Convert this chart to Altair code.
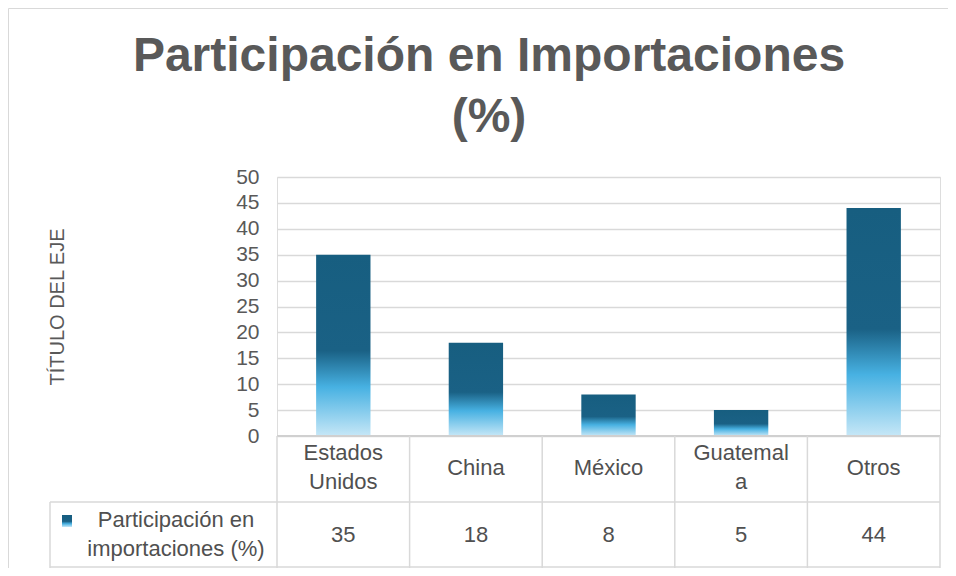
import altair as alt
import pandas as pd

# ---- data ----
categories = ["Estados Unidos", "China", "México", "Guatemala", "Otros"]
header_labels = ["Estados\nUnidos", "China", "México", "Guatemal\na", "Otros"]
values = [35, 18, 8, 5, 44]
series_name = "Participación en\nimportaciones (%)"
title_text = "Participación en Importaciones\n(%)"
axis_title = "TÍTULO DEL EJE"
y_ticks = [0, 5, 10, 15, 20, 25, 30, 35, 40, 45, 50]

df = pd.DataFrame({"cat": categories, "value": values, "label": header_labels})

W, H = 663, 259
FONT = "Liberation Sans"
GRID = "#d9d9d9"
TXT = "#505050"

grad = alt.LinearGradient(
    gradient="linear", x1=0, y1=1, x2=0, y2=0,
    stops=[
        alt.GradientStop(offset=0, color="#c6e7f7"),
        alt.GradientStop(offset=0.27, color="#47b1e2"),
        alt.GradientStop(offset=0.47, color="#1a6185"),
        alt.GradientStop(offset=1, color="#175e80"),
    ],
)

xscale = alt.Scale(paddingInner=0, paddingOuter=0)
xenc = alt.X("cat:N", sort=categories, scale=xscale, axis=None)

base = alt.Chart(df)

bars = base.mark_bar(color=grad, width=alt.RelativeBandSize(0.41)).encode(
    x=xenc,
    y=alt.Y("value:Q", scale=alt.Scale(domain=[0, 50], nice=False),
            axis=alt.Axis(values=y_ticks, title=axis_title, grid=True,
                          gridColor=GRID, gridWidth=1.5, domain=False, ticks=False,
                          labelFont=FONT, labelFontSize=21, labelColor="#595959",
                          labelPadding=18,
                          titleFont=FONT, titleFontSize=20, titleFontWeight="normal",
                          titleColor="#595959", titleX=-220, titleY=H / 2,
                          titleAngle=270, titleAlign="center", titleBaseline="middle")),
)

# table grid lines
vlines_left = base.mark_rule(color=GRID, strokeWidth=1.5).encode(
    x=alt.X("cat:N", sort=categories, bandPosition=0, scale=xscale, axis=None),
    y=alt.value(H), y2=alt.value(H + 132),
)
vline_right = alt.Chart(pd.DataFrame({"cat": [categories[-1]]})).mark_rule(
    color=GRID, strokeWidth=1.5).encode(
    x=alt.X("cat:N", sort=categories, bandPosition=1, scale=xscale, axis=None),
    y=alt.value(H), y2=alt.value(H + 132),
)
one = pd.DataFrame({"k": [0]})
axis_line = alt.Chart(one).mark_rule(color="#d0d0d0", strokeWidth=2).encode(
    x=alt.value(0), x2=alt.value(W), y=alt.value(H))
hline_mid = alt.Chart(one).mark_rule(color=GRID, strokeWidth=1.5).encode(
    x=alt.value(-227), x2=alt.value(W), y=alt.value(H + 66))
hline_bot = alt.Chart(one).mark_rule(color=GRID, strokeWidth=1.5).encode(
    x=alt.value(-227), x2=alt.value(W), y=alt.value(H + 131))
vline_leg = alt.Chart(one).mark_rule(color=GRID, strokeWidth=1.5).encode(
    x=alt.value(-227), y=alt.value(H + 66), y2=alt.value(H + 132))
# outer chart border
border_top = alt.Chart(one).mark_rule(color="#d9d9d9", strokeWidth=1).encode(
    x=alt.value(-268.5), x2=alt.value(W + 8), y=alt.value(-168.5))
border_left = alt.Chart(one).mark_rule(color="#d9d9d9", strokeWidth=1).encode(
    x=alt.value(-268.5), y=alt.value(-168.5), y2=alt.value(H + 140))

header_one = base.transform_filter("indexof(datum.label, '\\n') < 0").mark_text(
    font=FONT, fontSize=22, color=TXT, baseline="middle").encode(
    x=xenc, y=alt.value(H + 32), text="label:N")
header_two = base.transform_filter("indexof(datum.label, '\\n') >= 0").mark_text(
    font=FONT, fontSize=22, color=TXT, lineBreak="\n", lineHeight=29,
    baseline="middle").encode(
    x=xenc, y=alt.value(H + 17), text="label:N")
value_text = base.mark_text(font=FONT, fontSize=22, color=TXT,
                            baseline="middle").encode(
    x=xenc, y=alt.value(H + 99), text="value:Q")
legend_text = alt.Chart(pd.DataFrame({"t": [series_name]})).mark_text(
    font=FONT, fontSize=22, color=TXT, lineBreak="\n", lineHeight=29,
    baseline="middle", align="center").encode(
    x=alt.value(-101), y=alt.value(H + 84), text="t:N")
legend_icon = alt.Chart(one).mark_rect(color=grad).encode(
    x=alt.value(-215), x2=alt.value(-205), y=alt.value(H + 79), y2=alt.value(H + 91))

title = alt.Chart(pd.DataFrame({"t": [title_text]})).mark_text(
    font=FONT, fontSize=48, fontWeight="bold", color="#595959", lineBreak="\n",
    lineHeight=61, baseline="middle", align="center").encode(
    x=alt.value(212), y=alt.value(-120), text="t:N")

chart = alt.layer(
    bars, axis_line, vlines_left, vline_right, hline_mid, hline_bot, vline_leg,
    border_top, border_left, header_one, header_two, value_text, legend_text,
    legend_icon, title,
).properties(
    width=W, height=H,
    autosize=alt.AutoSizeParams(type="none"),
    padding={"left": 269, "top": 169, "right": 8, "bottom": 132},
).configure_view(stroke=None).configure(background="white")

chart.save("out.html", embed_options={"renderer": "svg", "actions": False})
